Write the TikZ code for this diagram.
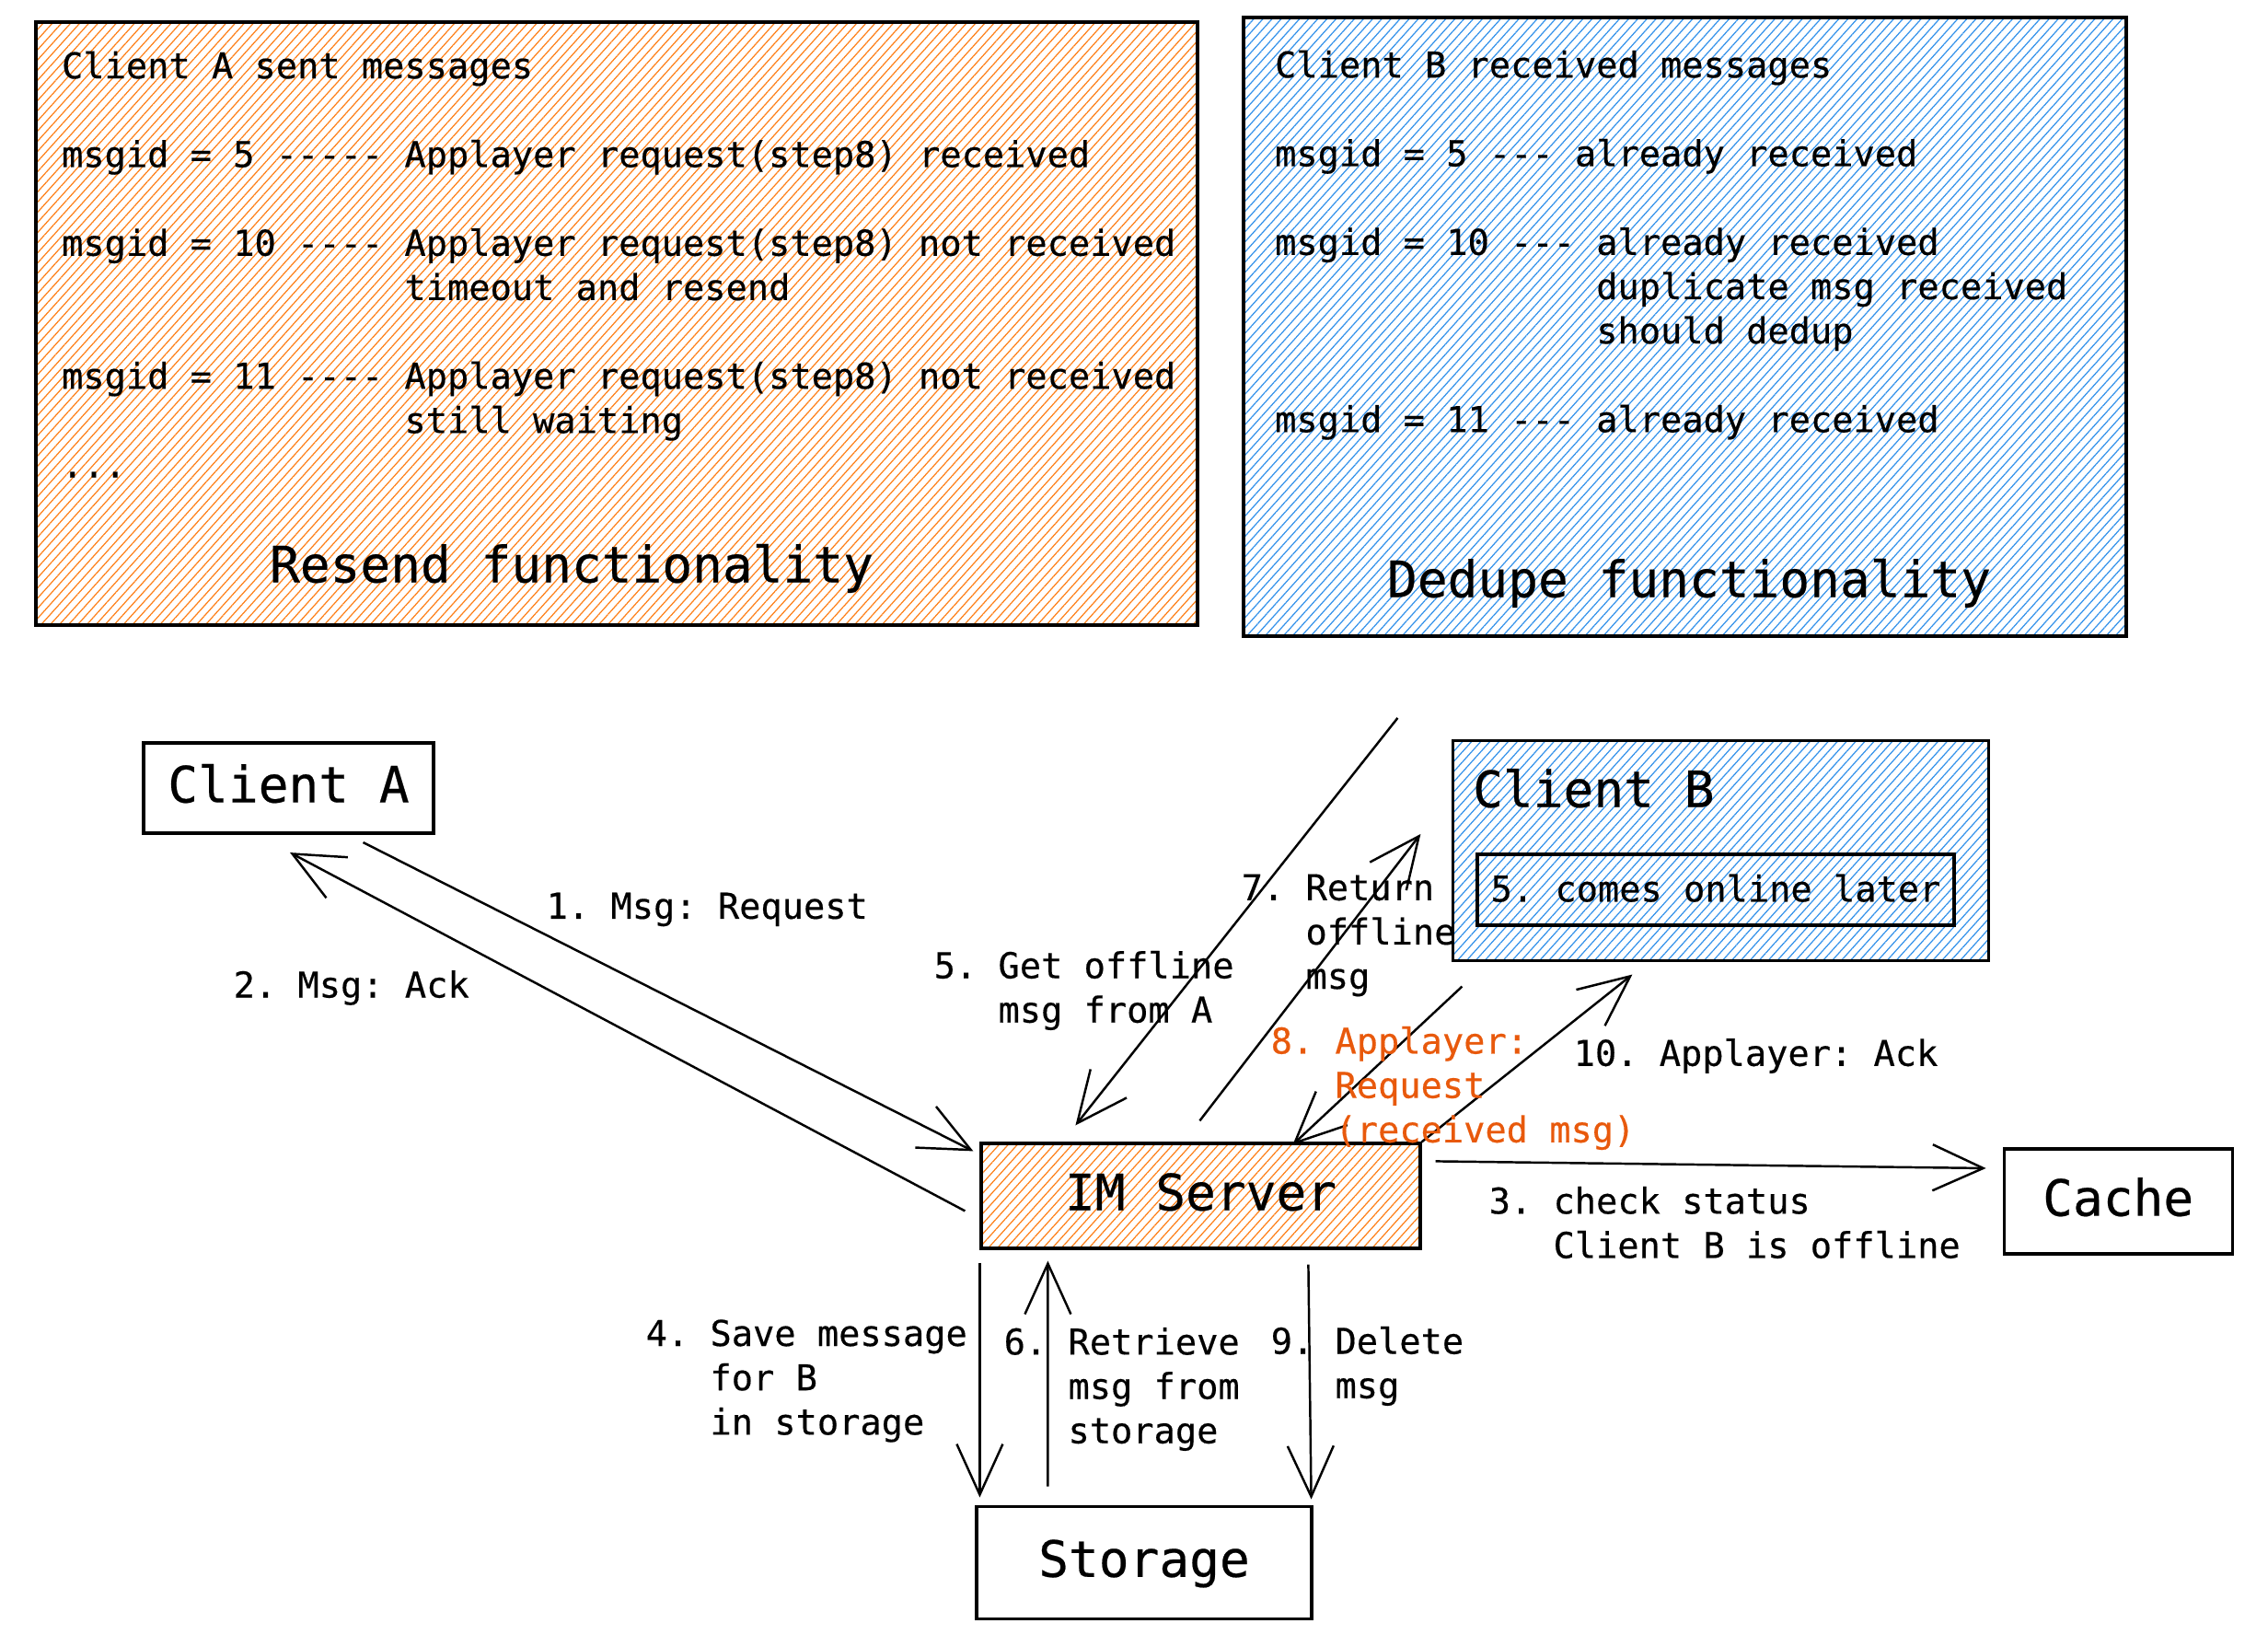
\documentclass[tikz,border=0pt]{standalone}
\usepackage{fontspec}
\setmonofont[FakeBold=0.4]{DejaVu Sans Mono}
\usepackage{tikz}
\usetikzlibrary{arrows.meta,positioning,calc,patterns.meta}
\definecolor{hachorange}{RGB}{253,128,26}
\definecolor{hachblue}{RGB}{52,146,234}
\definecolor{steporange}{RGB}{232,89,12}
\newcommand{\lblfont}{\fontsize{11pt}{13.7pt}\selectfont}
\newcommand{\headfont}{\fontsize{15.5pt}{18pt}\selectfont}

\begin{document}
\begin{tikzpicture}[font=\ttfamily\lblfont, box/.style={draw, line width=0.9pt, font=\ttfamily\headfont, text height=1em, text depth=0.11em, inner sep=0pt}, orangefill/.style={pattern={Lines[angle=48,distance=2.1pt,line width=0.35pt]}, pattern color=hachorange}, bluefill/.style={pattern={Lines[angle=48,distance=2.1pt,line width=0.35pt]}, pattern color=hachblue}, arr/.style={-{Straight Barb[length=5.5mm,width=5mm]}, line width=0.7pt}, lbl/.style={align=left, inner sep=0pt, anchor=west}]
\useasboundingbox (0,0) rectangle (24.64,-17.76);
\node[box, orangefill, minimum width=12.62cm, minimum height=6.55cm] (resend) at (6.70,-3.515) {};
\node[box, bluefill, minimum width=9.59cm, minimum height=6.72cm] (dedupe) at (18.305,-3.55) {};
\node[lbl, anchor=north west] (sentlog) at ($(resend.north west)+(0.28,-0.315)$) {Client A sent messages\\[13.7pt] msgid = 5 ----- Applayer request(step8) received\\[13.7pt] msgid = 10 ---- Applayer request(step8) not received\\ \hphantom{msgid = 10 ---- }timeout and resend\\[13.7pt] msgid = 11 ---- Applayer request(step8) not received\\ \hphantom{msgid = 11 ---- }still waiting\\ ...};
\node[lbl, anchor=north west] (recvlog) at ($(dedupe.north west)+(0.35,-0.365)$) {Client B received messages\\[13.7pt] msgid = 5 --- already received\\[13.7pt] msgid = 10 --- already received\\ \hphantom{msgid = 10 --- }duplicate msg received\\ \hphantom{msgid = 10 --- }should dedup\\[13.7pt] msgid = 11 --- already received};
\node[anchor=base, font=\ttfamily\headfont] (resendtitle) at ($(resend.south)+(-0.49,0.47)$) {Resend functionality};
\node[anchor=base, font=\ttfamily\headfont] (dedupetitle) at ($(dedupe.south)+(0.045,0.44)$) {Dedupe functionality};
\node[box, minimum width=3.15cm, minimum height=0.98cm] (clia) at (3.135,-8.56) {Client A};
\node[box, orangefill, minimum width=4.77cm, minimum height=1.14cm] (srv) at (13.045,-12.99) {IM Server};
\node[box, below=2.77cm of srv, xshift=-0.615cm, minimum width=3.64cm, minimum height=1.22cm] (store) {Storage};
\node[box, right=6.31cm of srv, yshift=-0.06cm, minimum width=2.48cm, minimum height=1.14cm] (cache) {Cache};
\node[box, bluefill, minimum width=5.82cm, minimum height=2.39cm] (clib) at (18.695,-9.24) {};
\node[anchor=west, inner sep=0pt, font=\ttfamily\headfont, text height=0.85em, text depth=0.12em] (clibtitle) at ($(clib.north west)+(0.225,-0.61)$) {Client B};
\node[box, font=\ttfamily\lblfont, text height=0.85em, text depth=0.12em, minimum width=5.18cm, minimum height=0.77cm] (online) at (18.64,-9.665) {5. comes online later};
\coordinate (offreq) at ($(clib.north west)+(-0.585,0.23)$);
\draw[arr] ($(clia.south east)+(-0.78,-0.085)$) -- ($(srv.north west)+(-0.07,-0.10)$);
\draw[arr] ($(srv.north west)+(-0.16,-0.75)$) -- ($(clia.south)+(0.015,-0.195)$);
\draw[arr] (offreq) -- ($(srv.north west)+(1.04,0.18)$);
\draw[arr] ($(srv.north west)+(2.39,0.23)$) -- ($(clib.north west)+(-0.335,-1.03)$);
\draw[arr] ($(clib.south west)+(0.115,-0.265)$) -- ($(srv.north west)+(3.40,-0.03)$);
\draw[arr] (srv.north east) -- ($(clib.south west)+(1.965,-0.135)$);
\draw[arr] ($(srv.north east)+(0.15,-0.21)$) -- ($(cache.west)+(-0.18,0.36)$);
\draw[arr] ($(srv.south west)+(0,-0.14)$) -- ($(store.north west)+(0.05,0.08)$);
\draw[arr] ($(store.north west)+(0.79,0.20)$) -- ($(srv.south west)+(0.74,-0.12)$);
\draw[arr] ($(srv.south west)+(3.57,-0.16)$) -- ($(store.north east)+(-0.02,0.06)$);
\node[lbl] (l1) at (5.93,-9.88) {1. Msg: Request};
\node[lbl] (l2) at (2.53,-10.73) {2. Msg: Ack};
\node[lbl] (l5) at (10.14,-10.76) {5. Get offline\\\hphantom{5. }msg from A};
\node[lbl] (l7) at (13.48,-10.16) {7. Return\\\hphantom{7. }offline\\\hphantom{7. }msg};
\node[lbl, text=steporange] (l8) at (13.80,-11.82) {8. Applayer:\\\hphantom{8. }Request\\\hphantom{8. }(received msg)};
\node[lbl] (l10) at (17.09,-11.47) {10. Applayer: Ack};
\node[lbl] (l3) at (16.17,-13.28) {3. check status\\\hphantom{3. }Client B is offline};
\node[lbl] (l4) at (7.01,-15.00) {4. Save message\\\hphantom{4. }for B\\\hphantom{4. }in storage};
\node[lbl] (l6) at (10.90,-15.09) {6. Retrieve\\\hphantom{6. }msg from\\\hphantom{6. }storage};
\node[lbl] (l9) at (13.80,-14.84) {9. Delete\\\hphantom{9. }msg};
\end{tikzpicture}
\end{document}
